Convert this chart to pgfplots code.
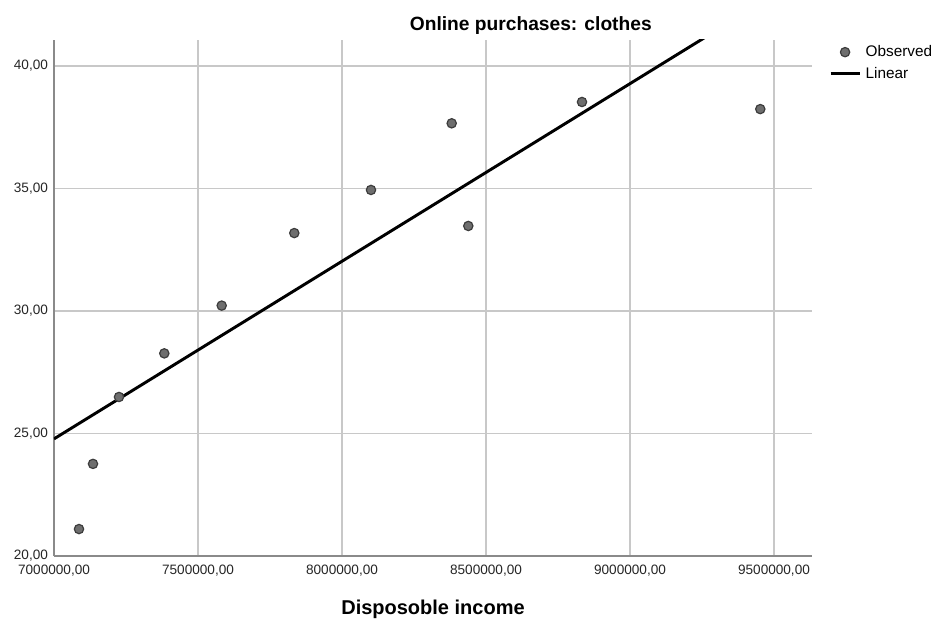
\documentclass[border=0pt]{standalone}
\usepackage{fontspec}
\setmainfont{Liberation Sans}
\usepackage{pgfplots}
\pgfplotsset{compat=1.18}
\definecolor{gridc}{HTML}{C8C8C8}
\definecolor{axc}{HTML}{8A8A8A}
\definecolor{mfill}{HTML}{6E6E6E}
\definecolor{medge}{HTML}{3C3C3C}
\pgfplotsset{
  obs legend/.style={legend image code/.code={\draw[##1] plot coordinates {(10.9pt,0pt)};}},
  lin legend/.style={legend image code/.code={\draw[##1] (0pt,0pt) -- (21.75pt,0pt);}},
}
\pgfplotstableread{
x y
7086806 21.10
7135417 23.76
7225694 26.49
7382986 28.27
7582292 30.22
7834375 33.18
8100694 34.94
8380903 37.66
8438542 33.47
8833333 38.53
9452431 38.24
}\observed
\begin{document}
\begin{tikzpicture}
\begin{axis}[
 scale only axis, width=568.5pt, height=387pt,
 xmin=7000000, xmax=9632000, ymin=20, ymax=41.06,
 axis x line*=bottom, axis y line*=left,
 axis line style={axc, line width=1.5pt, -},
 xtick={7000000,7500000,8000000,8500000,9000000,9500000},
 xticklabels={{7000000,00},{7500000,00},{8000000,00},{8500000,00},{9000000,00},{9500000,00}},
 ytick={20,25,30,35,40},
 yticklabels={{20,00},{25,00},{30,00},{35,00},{40,00}},
 scaled x ticks=false,
 major tick length=0pt,
 grid=major, major grid style={gridc, line width=1.1pt},
 tick label style={font=\fontsize{10.2}{12}\selectfont, text=black!85},
 xticklabel style={yshift=-3pt},
 yticklabel style={xshift=-1pt},
 every axis title/.style={at={(axis description cs:0.629,1)}, anchor=base, yshift=6.9pt, font=\fontsize{14.4}{17}\selectfont\bfseries},
 title={Online purchases: clothes},
 every axis x label/.style={at={(axis description cs:0.5,0)}, anchor=base, yshift=-43.6pt, font=\fontsize{15}{18}\selectfont\bfseries},
 xlabel={Disposoble income},
 legend style={at={(axis description cs:1,1)}, anchor=north west, xshift=12.6pt, yshift=-3pt, draw=none, fill=none, font=\fontsize{11.5}{13}\selectfont, inner sep=0pt, row sep=4.5pt, nodes={inner sep=1pt}, /tikz/every odd column/.append style={column sep=2.5pt}},
 legend cell align=left,
]
\addplot[only marks, mark=*, mark size=3.5pt, mark options={fill=mfill, draw=medge, line width=0.9pt}, obs legend] table[x=x,y=y] {\observed};
\addlegendentry{Observed}
\addplot[black, line width=2.2pt, lin legend] coordinates {(7000000,24.78) (9632000,43.86)};
\addlegendentry{Linear}
\end{axis}
\pgfresetboundingbox
\path[use as bounding box] (current axis.south west) ++(-40.5pt,-46.5pt) rectangle ++(701.25pt,463.5pt);
\end{tikzpicture}
\end{document}
